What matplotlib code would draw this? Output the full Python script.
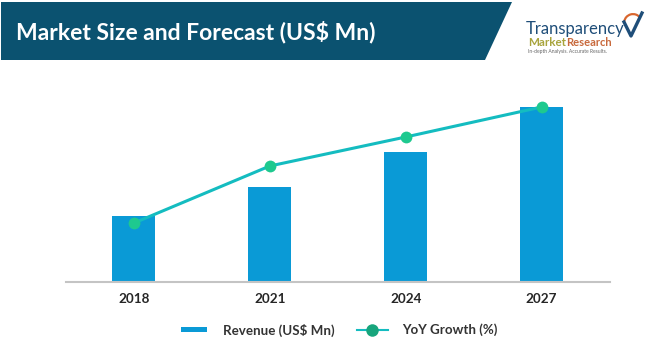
import matplotlib
matplotlib.use('Agg')
import matplotlib.pyplot as plt
from matplotlib.patches import Polygon, Wedge
from matplotlib.lines import Line2D

plt.rcParams['font.family'] = ['Lato', 'DejaVu Sans']

W = 650
H = 350

years = ['2018', '2021', '2024', '2027']
revenue = [66, 95, 130, 175]
growth = [59, 116, 145, 175]

NAVY = '#0b5270'
BLUE = '#0a9ad6'
TEAL = '#14bcc0'
GREEN = '#1ec98f'

fig = plt.figure(figsize=(W / 100, H / 100), dpi=100, facecolor='white')

# full figure layer in pixel coordinates, y pointing down
bg = fig.add_axes([0, 0, 1, 1])
bg.set_xlim(0, W)
bg.set_ylim(H, 0)
bg.axis('off')

bg.add_patch(Polygon([(1, 2), (512, 2), (485, 60), (1, 60)], closed=True, fc=NAVY, ec='none'))
bg.text(16, 32, 'Market Size and Forecast (US$ Mn)', color='white', fontsize=16.5,
        fontweight='bold', va='center', ha='left')

# logo
bg.text(526, 29, 'Transparency', color='#1f4e79', fontsize=12, va='center', ha='left')
bg.text(528, 43, 'Market', color='#a8a43c', fontsize=8.4, fontweight='bold', va='center', ha='left')
bg.text(566, 43, 'Research', color='#c8693c', fontsize=8, fontweight='bold', va='center', ha='left')
bg.text(528, 52, 'In-depth Analysis. Accurate Results.', color='#666666', fontsize=3.6,
        va='center', ha='left')
bg.add_patch(Wedge((633, 23), 10, 190, 320, width=2.2, fc='#d9662e', ec='none'))
bg.add_line(Line2D([624, 631, 642], [22, 36, 13], color='#1f4e79', lw=2.4))

# chart area
ax = fig.add_axes([66 / W, 1 - 282 / H, (609.5 - 66) / W, (282 - 90) / H])
ax.patch.set_alpha(0)
ax.set_xlim(-0.5, 3.5)
ax.set_ylim(0, 192)

x = range(len(years))
ax.bar(x, revenue, width=0.317, color=BLUE, label='Revenue (US$ Mn)', zorder=2)
ax.plot(x, growth, color=TEAL, lw=2.2, zorder=3)
ax.plot(x, growth, color=GREEN, ls='none', marker='o', ms=8.5, mew=0, zorder=4)

for side in ['top', 'right', 'left']:
    ax.spines[side].set_visible(False)
ax.spines['bottom'].set_color('#c4c4c4')
ax.spines['bottom'].set_linewidth(1.5)
ax.set_yticks([])
ax.set_xticks(list(x))
ax.set_xticklabels(years, fontsize=9.7, fontweight='bold', color='#262626')
ax.tick_params(axis='x', length=0, pad=8)

# legend drawn by hand to hold the reference spacing
bg.fill_between([181, 207], 327, 332, color=BLUE, lw=0)
bg.text(223, 330, 'Revenue (US$ Mn)', fontsize=9.6, fontweight='bold', color='#333333',
        va='center', ha='left')
bg.add_line(Line2D([357, 388], [330, 330], color=TEAL, lw=1.5))
bg.add_line(Line2D([372], [330], color='#17a57c', marker='o', ms=9, mew=0))
bg.text(402, 330, 'YoY Growth (%)', fontsize=9.6, fontweight='bold', color='#333333',
        va='center', ha='left')

fig.savefig('out.png', dpi=100)
